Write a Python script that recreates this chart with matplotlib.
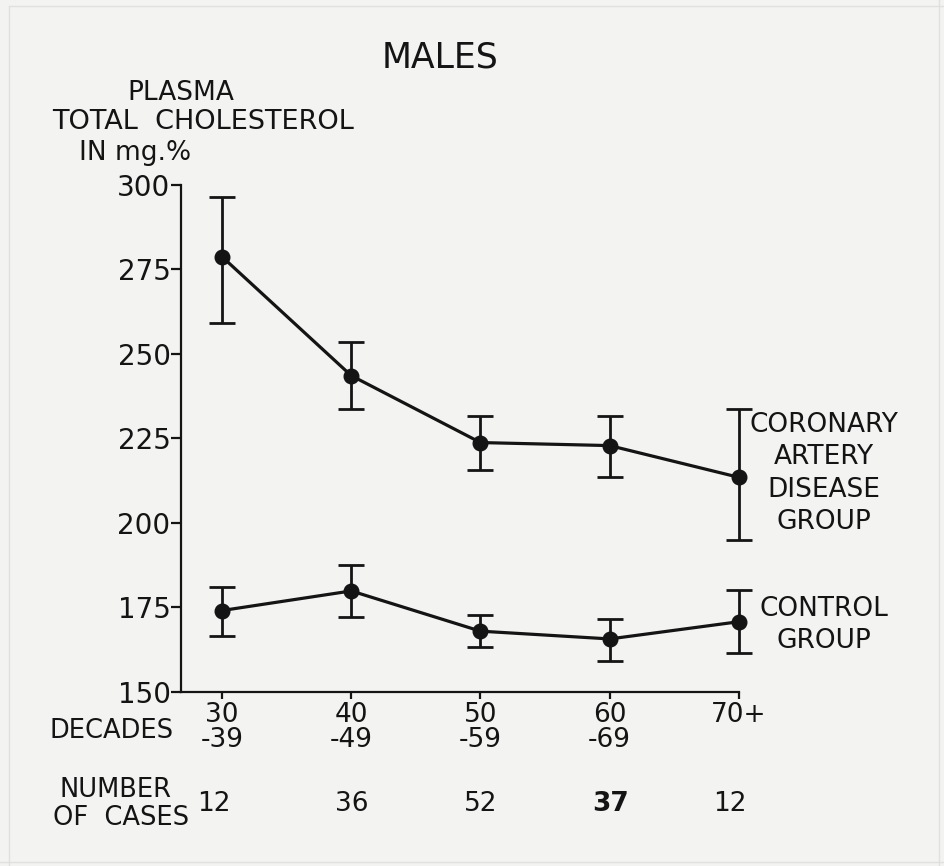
import matplotlib
matplotlib.use("Agg")
import matplotlib.pyplot as plt
from matplotlib.lines import Line2D
import numpy as np

# ---- data ----
decades = ["30\n-39", "40\n-49", "50\n-59", "60\n-69", "70+"]
n_cases = ["12", "36", "52", "37", "12"]
cad_mean = [278.8, 243.6, 223.8, 222.9, 213.5]
cad_upper = [296.4, 253.6, 231.7, 231.7, 233.6]
cad_lower = [259.1, 233.7, 215.7, 213.7, 195.0]
ctl_mean = [174.1, 179.9, 168.0, 165.7, 170.8]
ctl_upper = [181.0, 187.5, 172.9, 171.7, 180.2]
ctl_lower = [166.6, 172.3, 163.4, 159.3, 161.4]
yticks = [150, 175, 200, 225, 250, 275, 300]

W, H = 944, 866
bg = "#f3f3f2"
ink = "#141414"
plt.rcParams['font.family'] = ['DejaVu Sans']

fig = plt.figure(figsize=(W / 100, H / 100), dpi=100, facecolor=bg)

# faint photo border
for xs, ys in [((9, 9), (6, 866)), ((9, 944), (6, 6)), ((0, 944), (862, 862)), ((939, 939), (0, 866))]:
    fig.add_artist(Line2D([v / W for v in xs], [1 - v / H for v in ys], color="#e0e0e0", lw=1.0))

ax = fig.add_axes([181 / W, 1 - 692 / H, (739 - 181) / W, (692 - 185) / H])
ax.set_facecolor(bg)

x = np.arange(len(decades))
for mean, up, lo in [(cad_mean, cad_upper, cad_lower), (ctl_mean, ctl_upper, ctl_lower)]:
    m = np.array(mean)
    yerr = [m - np.array(lo), np.array(up) - m]
    ax.errorbar(x, m, yerr=yerr, color=ink, lw=2.3, elinewidth=2.0, capsize=9.5,
                capthick=2.0, marker='o', markersize=10.5, clip_on=False, zorder=3)

ax.set_ylim(150, 300)
ax.set_xlim(-0.317, 4)
for s in ['top', 'right']:
    ax.spines[s].set_visible(False)
for s in ['left', 'bottom']:
    ax.spines[s].set_linewidth(1.6)
    ax.spines[s].set_color(ink)

fs = 19
ax.set_yticks(yticks)
ax.set_yticklabels([str(v) for v in yticks], fontsize=20, color=ink)
ax.tick_params(axis='y', length=7, width=1.6, pad=0.5, colors=ink)
ax.set_xticks(x)
ax.set_xticklabels(decades, fontsize=fs, color=ink, linespacing=0.95)
ax.tick_params(axis='x', length=5, width=1.6, pad=2, colors=ink)

def ptxt(px, py, s, **kw):
    kw.setdefault('fontsize', fs)
    kw.setdefault('color', ink)
    fig.text(px / W, 1 - py / H, s, va='center', **kw)

ptxt(440, 57, "MALES", ha='center', fontsize=25)
ptxt(181, 93, "PLASMA", ha='center')
ptxt(203, 122, "TOTAL  CHOLESTEROL", ha='center', fontsize=19.5)
ptxt(135, 153, "IN mg.%", ha='center')

ptxt(824, 425, "CORONARY", ha='center')
ptxt(824, 457, "ARTERY", ha='center')
ptxt(824, 490, "DISEASE", ha='center')
ptxt(824, 522, "GROUP", ha='center')
ptxt(824, 609, "CONTROL", ha='center')
ptxt(824, 641, "GROUP", ha='center')

ptxt(174, 731, "DECADES", ha='right', fontsize=18.5)
ptxt(115, 790, "NUMBER", ha='center', fontsize=18.5)
ptxt(121, 818, "OF  CASES", ha='center', fontsize=18.5)

xpix = [222, 352, 481, 611, 738]
for i, (n, px) in enumerate(zip(n_cases, xpix)):
    ptxt(px - 8 if i in (0, 4) else px, 804, n, ha='center',
         fontweight='bold' if n == "37" and i == 3 else 'normal')

fig.savefig("out.png", dpi=100, facecolor=bg)
